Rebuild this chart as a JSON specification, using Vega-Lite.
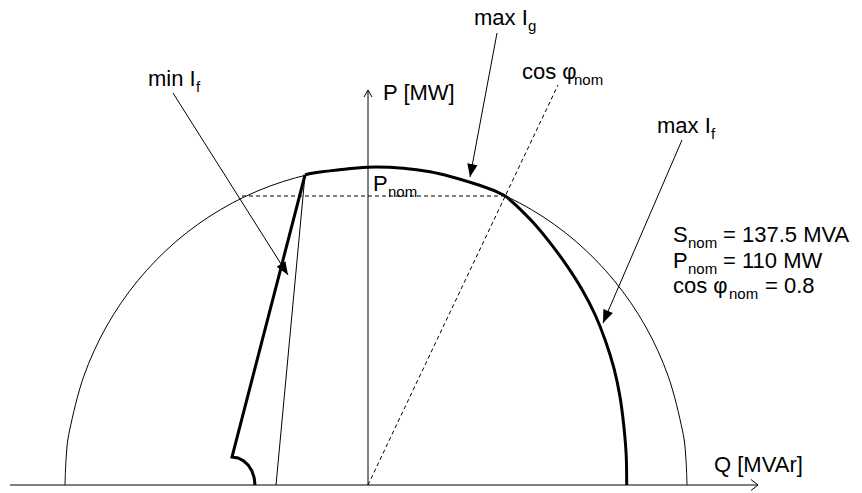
{
  "$schema": "https://vega.github.io/schema/vega-lite/v6.json",
  "width": 862,
  "height": 493,
  "padding": 0,
  "autosize": {"type": "fit", "contains": "padding"},
  "background": "white",
  "config": {"view": {"stroke": null}},
  "datasets": {
    "ell": [
      {"i": 0, "q": -303, "p": 0},
      {"i": 1, "q": -301.8, "p": 27.7},
      {"i": 2, "q": -298.3, "p": 55.2},
      {"i": 3, "q": -284.2, "p": 108.8},
      {"i": 4, "q": -261.3, "p": 159},
      {"i": 5, "q": -230.2, "p": 204.4},
      {"i": 6, "q": -191.9, "p": 243.6},
      {"i": 7, "q": -147.5, "p": 275.4},
      {"i": 8, "q": -98.4, "p": 298.8},
      {"i": 9, "q": -46, "p": 313.2},
      {"i": 10, "q": 8, "p": 318},
      {"i": 11, "q": 62, "p": 313.2},
      {"i": 12, "q": 114.4, "p": 298.8},
      {"i": 13, "q": 163.5, "p": 275.4},
      {"i": 14, "q": 207.9, "p": 243.6},
      {"i": 15, "q": 246.2, "p": 204.4},
      {"i": 16, "q": 277.3, "p": 159},
      {"i": 17, "q": 300.2, "p": 108.8},
      {"i": 18, "q": 314.3, "p": 55.2},
      {"i": 19, "q": 317.8, "p": 27.7},
      {"i": 20, "q": 319, "p": 0}
    ],
    "boldArcs": [
      {"id": "maxIg", "i": 0, "q": -63, "p": 310},
      {"id": "maxIg", "i": 1, "q": -46, "p": 313.2},
      {"id": "maxIg", "i": 2, "q": 8, "p": 318},
      {"id": "maxIg", "i": 3, "q": 62, "p": 313.2},
      {"id": "maxIg", "i": 4, "q": 114.4, "p": 298.8},
      {"id": "maxIg", "i": 5, "q": 137, "p": 289.3},
      {"id": "maxIf", "i": 0, "q": 137, "p": 289.3},
      {"id": "maxIf", "i": 1, "q": 148.4, "p": 279.3},
      {"id": "maxIf", "i": 2, "q": 166.3, "p": 261.2},
      {"id": "maxIf", "i": 3, "q": 182.9, "p": 241.1},
      {"id": "maxIf", "i": 4, "q": 199, "p": 219.2},
      {"id": "maxIf", "i": 5, "q": 214, "p": 195.6},
      {"id": "maxIf", "i": 6, "q": 227, "p": 170.5},
      {"id": "maxIf", "i": 7, "q": 237.5, "p": 144.1},
      {"id": "maxIf", "i": 8, "q": 246, "p": 116.6},
      {"id": "maxIf", "i": 9, "q": 252, "p": 88.3},
      {"id": "maxIf", "i": 10, "q": 255.8, "p": 59.2},
      {"id": "maxIf", "i": 11, "q": 258.2, "p": 29.7},
      {"id": "maxIf", "i": 12, "q": 258.7, "p": 0}
    ],
    "minIf": [
      {"i": 0, "q": -63, "p": 310},
      {"i": 1, "q": -136, "p": 28},
      {"i": 2, "q": -130, "p": 27},
      {"i": 3, "q": -124.5, "p": 24.2},
      {"i": 4, "q": -119.7, "p": 19.8},
      {"i": 5, "q": -116.1, "p": 14},
      {"i": 6, "q": -113.8, "p": 7.2},
      {"i": 7, "q": -113, "p": 0}
    ],
    "thin": [
      {"id": "qAxis", "i": 0, "q": -358, "p": 0},
      {"id": "qAxis", "i": 1, "q": 390, "p": 0},
      {"id": "qArrow", "i": 0, "q": 383, "p": 5.5},
      {"id": "qArrow", "i": 1, "q": 390, "p": 0},
      {"id": "qArrow", "i": 2, "q": 383, "p": -5.5},
      {"id": "pAxis", "i": 0, "q": 0, "p": 0},
      {"id": "pAxis", "i": 1, "q": 0, "p": 395},
      {"id": "pArrow", "i": 0, "q": -4, "p": 388},
      {"id": "pArrow", "i": 1, "q": 0, "p": 395},
      {"id": "pArrow", "i": 2, "q": 4, "p": 388},
      {"id": "minIfThin", "i": 0, "q": -63, "p": 310},
      {"id": "minIfThin", "i": 1, "q": -92, "p": 0},
      {"id": "leadMin", "i": 0, "q": -195, "p": 392},
      {"id": "leadMin", "i": 1, "q": -80, "p": 210},
      {"id": "leadG", "i": 0, "q": 129, "p": 452},
      {"id": "leadG", "i": 1, "q": 102, "p": 308},
      {"id": "leadF", "i": 0, "q": 314, "p": 345},
      {"id": "leadF", "i": 1, "q": 235, "p": 162}
    ],
    "dashed": [
      {"id": "pnom", "i": 0, "q": -126, "p": 289},
      {"id": "pnom", "i": 1, "q": 137, "p": 289},
      {"id": "cosphi", "i": 0, "q": 0, "p": 0},
      {"id": "cosphi", "i": 1, "q": 190, "p": 400}
    ],
    "tipMin": [{"q": -80, "p": 210}],
    "tipG": [{"q": 102, "p": 308}],
    "tipF": [{"q": 235, "p": 162}],
    "mainText": [
      {"t": "P [MW]", "q": 15, "p": 385},
      {"t": "Q [MVAr]", "q": 346, "p": 13},
      {"t": "max I", "q": 106, "p": 460},
      {"t": "cos φ", "q": 154, "p": 406},
      {"t": "max I", "q": 289, "p": 352},
      {"t": "min I", "q": -220, "p": 399},
      {"t": "P", "q": 5, "p": 294},
      {"t": "S", "q": 305, "p": 243},
      {"t": "= 137.5 MVA", "q": 355, "p": 243},
      {"t": "P", "q": 305, "p": 217},
      {"t": "= 110 MW", "q": 355, "p": 217},
      {"t": "cos φ", "q": 305, "p": 192},
      {"t": "= 0.8", "q": 397, "p": 192}
    ],
    "subText": [
      {"t": "g", "q": 160, "p": 454},
      {"t": "nom", "q": 206, "p": 400},
      {"t": "f", "q": 343, "p": 346},
      {"t": "f", "q": -172, "p": 393},
      {"t": "nom", "q": 20, "p": 288},
      {"t": "nom", "q": 320, "p": 237},
      {"t": "nom", "q": 320, "p": 211},
      {"t": "nom", "q": 361, "p": 186}
    ]
  },
  "encoding": {
    "x": {"field": "q", "type": "quantitative", "scale": {"domain": [-368, 494], "nice": false, "zero": false}, "axis": null},
    "y": {"field": "p", "type": "quantitative", "scale": {"domain": [-8, 485], "nice": false, "zero": false}, "axis": null}
  },
  "layer": [
    {
      "data": {"name": "ell"},
      "mark": {"type": "line", "color": "black", "strokeWidth": 1, "interpolate": "cardinal"},
      "encoding": {"order": {"field": "i", "type": "quantitative"}}
    },
    {
      "data": {"name": "thin"},
      "mark": {"type": "line", "color": "black", "strokeWidth": 1},
      "encoding": {"detail": {"field": "id"}, "order": {"field": "i", "type": "quantitative"}}
    },
    {
      "data": {"name": "dashed"},
      "mark": {"type": "line", "color": "black", "strokeWidth": 1, "strokeDash": [4, 3]},
      "encoding": {"detail": {"field": "id"}, "order": {"field": "i", "type": "quantitative"}}
    },
    {
      "data": {"name": "boldArcs"},
      "mark": {"type": "line", "color": "black", "strokeWidth": 3, "interpolate": "cardinal"},
      "encoding": {"detail": {"field": "id"}, "order": {"field": "i", "type": "quantitative"}}
    },
    {
      "data": {"name": "minIf"},
      "mark": {"type": "line", "color": "black", "strokeWidth": 3},
      "encoding": {"order": {"field": "i", "type": "quantitative"}}
    },
    {
      "data": {"name": "tipMin"},
      "mark": {"type": "point", "shape": "M0,0L-0.4,1L0.4,1Z", "size": 676, "filled": true, "color": "black", "opacity": 1, "angle": 147.7}
    },
    {
      "data": {"name": "tipG"},
      "mark": {"type": "point", "shape": "M0,0L-0.4,1L0.4,1Z", "size": 676, "filled": true, "color": "black", "opacity": 1, "angle": 190.6}
    },
    {
      "data": {"name": "tipF"},
      "mark": {"type": "point", "shape": "M0,0L-0.4,1L0.4,1Z", "size": 676, "filled": true, "color": "black", "opacity": 1, "angle": 203.3}
    },
    {
      "data": {"name": "mainText"},
      "mark": {"type": "text", "align": "left", "baseline": "alphabetic", "font": "Liberation Sans", "fontSize": 22, "color": "black"},
      "encoding": {"text": {"field": "t"}}
    },
    {
      "data": {"name": "subText"},
      "mark": {"type": "text", "align": "left", "baseline": "alphabetic", "font": "Liberation Sans", "fontSize": 15, "color": "black"},
      "encoding": {"text": {"field": "t"}}
    }
  ]
}
